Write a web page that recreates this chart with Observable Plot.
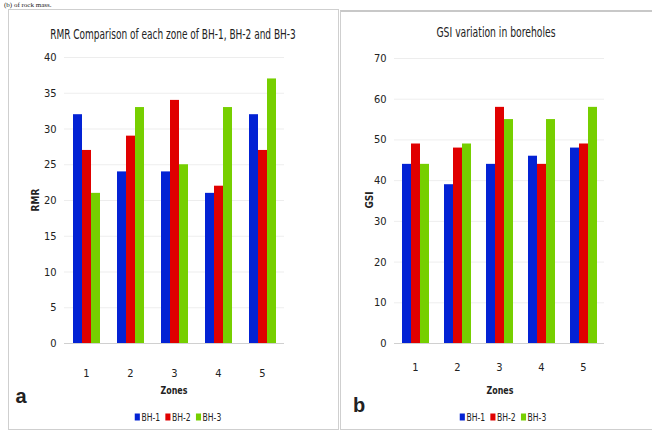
<!DOCTYPE html>
<html><head><meta charset="utf-8">
<script src="https://cdn.jsdelivr.net/npm/d3@7"></script>
<script src="https://cdn.jsdelivr.net/npm/@observablehq/plot@0.6"></script>
<style>
body{margin:0;background:#fff;width:652px;height:431px;overflow:hidden;position:relative;font-family:"DejaVu Sans Condensed","Liberation Sans",sans-serif;color:#222;}
.panel{position:absolute;border:1px solid #cfcfcf;box-sizing:border-box;}
.t{position:absolute;transform:translate(-50%,-50%);white-space:nowrap;}
.chart{position:absolute;top:0;}
.leg{position:absolute;transform:translate(-50%,-50%) scaleX(0.85);display:flex;gap:6px;font-size:10px;white-space:nowrap;}
.leg span{display:inline-flex;align-items:center;gap:2px;}
.leg i{display:inline-block;width:6px;height:7px;}
#cut{position:absolute;left:4px;top:1px;font-family:"Liberation Serif","DejaVu Serif",serif;font-size:7px;line-height:8px;}
</style></head><body>
<div id="cut">(b) of rock mass.</div>
<div class="panel" style="left:8px;top:9px;width:331px;height:421px"></div>
<div class="panel" style="left:340px;top:10px;width:313px;height:420px;border-top:2px solid #c8c8c8"></div>
<div id="chartA" class="chart" style="left:0"></div>
<div id="chartB" class="chart" style="left:338px"></div>
<script>
const zones = ["1", "2", "3", "4", "5"];
const series = ["BH-1", "BH-2", "BH-3"];
const colors = ["#0322d4", "#e00000", "#76cf00"];
const rmrBH1 = [32, 24, 24, 21, 32];
const rmrBH2 = [27, 29, 34, 22, 27];
const rmrBH3 = [21, 33, 25, 33, 37];
const gsiBH1 = [44, 39, 44, 46, 48];
const gsiBH2 = [49, 48, 58, 44, 49];
const gsiBH3 = [44, 49, 55, 55, 58];
const rmrTicks = [0, 5, 10, 15, 20, 25, 30, 35, 40];
const gsiTicks = [0, 10, 20, 30, 40, 50, 60, 70];

function table(arrs) {
  const rows = [];
  zones.forEach((z, i) => series.forEach((s, j) => rows.push({zone: z, series: s, value: arrs[j][i]})));
  return rows;
}
const rmrData = table([rmrBH1, rmrBH2, rmrBH3]);
const gsiData = table([gsiBH1, gsiBH2, gsiBH3]);

function chart(data, ticks, opts) {
  return Plot.plot({
    width: opts.width, height: 431,
    marginLeft: opts.ml, marginRight: opts.mr, marginTop: opts.mt, marginBottom: 88,
    style: {fontFamily: '"DejaVu Sans Condensed",sans-serif', fontSize: "11px", color: "#222", background: "transparent"},
    fx: {domain: zones, padding: 0, axis: "bottom", tickSize: 0, tickPadding: opts.tp, label: null},
    x: {domain: series, axis: null, paddingInner: 0, paddingOuter: 0.8},
    y: {domain: [0, ticks[ticks.length - 1]], ticks: ticks, tickSize: 0, tickPadding: 8, label: null, grid: false},
    color: {domain: series, range: colors},
    marks: [
      Plot.ruleY(ticks.slice(1), {stroke: "#000", strokeOpacity: 0.07}),
      Plot.barY(data, {fx: "zone", x: "series", y: "value", fill: "series"}),
      Plot.ruleY([0], {stroke: "#d0d0d0"})
    ]
  });
}
document.getElementById("chartA").appendChild(chart(rmrData, rmrTicks, {width: 330, ml: 64, mr: 46, mt: 57, tp: 26}));
document.getElementById("chartB").appendChild(chart(gsiData, gsiTicks, {width: 314, ml: 56, mr: 48, mt: 58, tp: 20}));

function txt(s, x, y, css) {
  const d = document.createElement("div");
  d.className = "t"; d.textContent = s;
  d.style.left = x + "px"; d.style.top = y + "px";
  Object.assign(d.style, css || {});
  document.body.appendChild(d);
}
function legend(x, y) {
  const d = document.createElement("div");
  d.className = "leg"; d.style.left = x + "px"; d.style.top = y + "px";
  series.forEach((s, i) => {
    const sp = document.createElement("span");
    const b = document.createElement("i"); b.style.background = colors[i];
    sp.appendChild(b); sp.appendChild(document.createTextNode(s));
    d.appendChild(sp);
  });
  document.body.appendChild(d);
}
txt("RMR Comparison of  each zone of BH-1, BH-2 and BH-3", 173, 34, {fontSize: "13.5px", transform: "translate(-50%,-50%) scaleX(0.74)"});
txt("GSI variation in boreholes", 496, 32, {fontSize: "13.5px", transform: "translate(-50%,-50%) scaleX(0.76)"});
txt("Zones", 174, 390, {fontSize: "11px", fontWeight: "bold", transform: "translate(-50%,-50%) scaleX(0.8)"});
txt("Zones", 500, 390, {fontSize: "11px", fontWeight: "bold", transform: "translate(-50%,-50%) scaleX(0.8)"});
txt("RMR", 35, 200, {fontSize: "10px", fontWeight: "bold", transform: "translate(-50%,-50%) rotate(-90deg)"});
txt("GSI", 369, 200, {fontSize: "10px", fontWeight: "bold", transform: "translate(-50%,-50%) rotate(-90deg)"});
txt("a", 21, 396, {fontSize: "20px", fontWeight: "bold", fontFamily: '"Liberation Sans",Arial,sans-serif'});
txt("b", 359, 405, {fontSize: "20px", fontWeight: "bold", fontFamily: '"Liberation Sans",Arial,sans-serif'});
legend(178, 417);
legend(503, 417);
</script>
</body></html>
